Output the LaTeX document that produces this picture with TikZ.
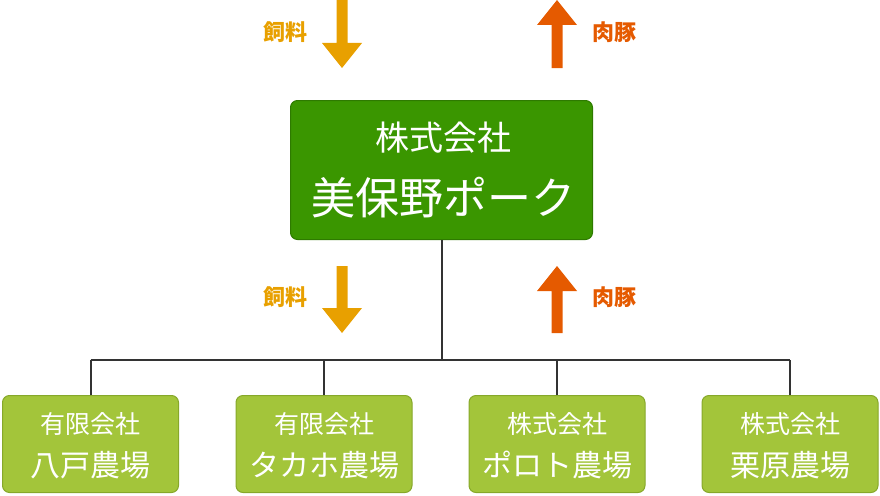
\documentclass[tikz,border=0pt]{standalone}
\usepackage{fontspec}
\setmainfont{Noto Sans CJK JP}
\usetikzlibrary{positioning}
\definecolor{darkg}{HTML}{3A9600}
\definecolor{darkgedge}{HTML}{2E7A00}
\definecolor{lightg}{HTML}{A3C53A}
\definecolor{lightgedge}{HTML}{86A82A}
\definecolor{feedc}{HTML}{E8A000}
\definecolor{porkc}{HTML}{E55A00}
\definecolor{linec}{HTML}{333333}
\tikzset{
  mainbox/.style={draw=darkgedge, line width=1pt, fill=darkg, rounded corners=7pt, minimum width=302pt, minimum height=139pt, inner sep=0pt},
  farmbox/.style={draw=lightgedge, line width=1pt, fill=lightg, rounded corners=7pt, minimum width=176pt, minimum height=97pt, inner sep=0pt},
  wtext/.style={text=white, inner sep=0pt, anchor=center},
  feedlbl/.style={text=feedc, font=\bfseries\fontsize{22}{22}\selectfont, inner sep=0pt},
  porklbl/.style={text=porkc, font=\bfseries\fontsize{22}{22}\selectfont, inner sep=0pt},
  conn/.style={draw=linec, line width=2pt},
}
\newcommand{\downarrowshape}[3]{% x, ytop, ybottom
  \fill[feedc] (#1-5.5,#2) -- (#1+5.5,#2) -- (#1+5.5,#3-25) -- (#1+20,#3-25) -- (#1,#3) -- (#1-20,#3-25) -- (#1-5.5,#3-25) -- cycle;}
\newcommand{\uparrowshape}[3]{% x, ytop, ybottom
  \fill[porkc] (#1-5.5,#3) -- (#1+5.5,#3) -- (#1+5.5,#2+25) -- (#1+20,#2+25) -- (#1,#2) -- (#1-20,#2+25) -- (#1-5.5,#2+25) -- cycle;}
\begin{document}
\begin{tikzpicture}[x=1pt,y=-1pt]
\useasboundingbox (0,0) rectangle (880,495);
% main box
\node[mainbox] (top) at (441.5,170) {};
\node[wtext, font=\fontsize{34}{34}\selectfont] (topl1) at (443,138) {株式会社};
\node[wtext, font=\fontsize{44}{44}\selectfont] (topl2) at (443,198) {美保野ポーク};
% farms
\node[farmbox] (f1) at (90.5,444) {};
\node[farmbox] (f2) at (324,444) {};
\node[farmbox] (f3) at (557,444) {};
\node[farmbox] (f4) at (790,444) {};
\foreach \n/\a/\b in {f1/有限会社/八戸農場, f2/有限会社/タカホ農場, f3/株式会社/ポロト農場, f4/株式会社/栗原農場}{
  \node[wtext, font=\fontsize{25}{25}\selectfont] (\n l1) at ([yshift=20pt]\n.center) {\a};
  \node[wtext, font=\fontsize{30}{30}\selectfont] (\n l2) at ([yshift=-21pt]\n.center) {\b};
}
% connectors
\coordinate (bus) at (441.5,360);
\draw[conn] (top.south) -- (bus);
\draw[conn] (f1.north |- bus) -- (f4.north |- bus);
\foreach \n in {f1,f2,f3,f4}{\draw[conn] (\n.north) -- (\n.north |- bus);}
% arrows
\downarrowshape{342}{0}{68}
\uparrowshape{557}{0}{68}
\downarrowshape{342}{266}{333}
\uparrowshape{557}{266}{333}
\node[feedlbl] (feed1) at (285.5,32) {飼料};
\node[porklbl] (pork1) at (614.5,32) {肉豚};
\node[feedlbl] (feed2) at (285.5,297) {飼料};
\node[porklbl] (pork2) at (614.5,297) {肉豚};
\end{tikzpicture}
\end{document}
